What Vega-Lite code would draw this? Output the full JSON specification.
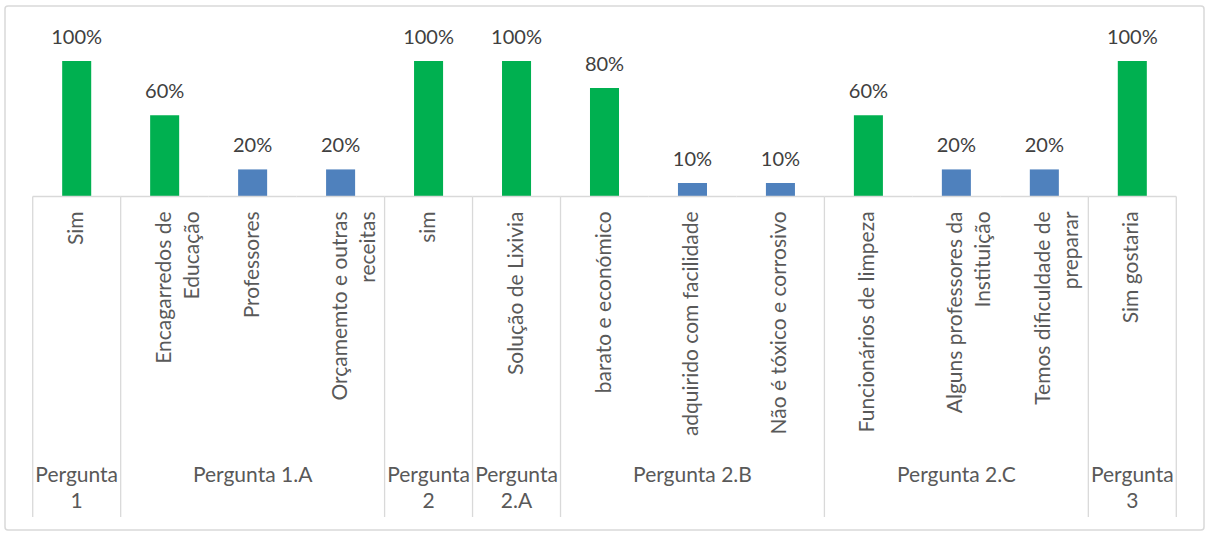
{
  "$schema": "https://vega.github.io/schema/vega-lite/v6.json",
  "width": 1199,
  "height": 524,
  "autosize": "none",
  "padding": {"left": 5, "top": 6, "right": 6, "bottom": 6},
  "background": "white",
  "datasets": {
    "barras": [
      {"cat": "Sim", "rotulo": "Sim", "valor": 1.0, "tipo": "maior"},
      {"cat": "Encagarredos", "rotulo": "Encagarredos de\nEducação", "valor": 0.6, "tipo": "maior"},
      {"cat": "Professores", "rotulo": "Professores", "valor": 0.2, "tipo": "outro"},
      {"cat": "Orcamemto", "rotulo": "Orçamemto e outras\nreceitas", "valor": 0.2, "tipo": "outro"},
      {"cat": "sim", "rotulo": "sim", "valor": 1.0, "tipo": "maior"},
      {"cat": "Solucao", "rotulo": "Solução de Lixivia", "valor": 1.0, "tipo": "maior"},
      {"cat": "barato", "rotulo": "barato e económico", "valor": 0.8, "tipo": "maior"},
      {"cat": "adquirido", "rotulo": "adquirido com facilidade", "valor": 0.1, "tipo": "outro"},
      {"cat": "Nao", "rotulo": "Não é tóxico e corrosivo", "valor": 0.1, "tipo": "outro"},
      {"cat": "Funcionarios", "rotulo": "Funcionários de limpeza", "valor": 0.6, "tipo": "maior"},
      {"cat": "Alguns", "rotulo": "Alguns professores da\nInstituição", "valor": 0.2, "tipo": "outro"},
      {"cat": "Temos", "rotulo": "Temos dificuldade de\npreparar", "valor": 0.2, "tipo": "outro"},
      {"cat": "Sim gostaria", "rotulo": "Sim gostaria", "valor": 1.0, "tipo": "maior"}
    ],
    "grupos": [
      {"cat": "Sim", "grupo": "Pergunta\n1"},
      {"cat": "Professores", "grupo": "Pergunta 1.A"},
      {"cat": "sim", "grupo": "Pergunta\n2"},
      {"cat": "Solucao", "grupo": "Pergunta\n2.A"},
      {"cat": "adquirido", "grupo": "Pergunta 2.B"},
      {"cat": "Alguns", "grupo": "Pergunta 2.C"},
      {"cat": "Sim gostaria", "grupo": "Pergunta\n3"}
    ],
    "inicios": [
      {"cat": "Sim"},
      {"cat": "Encagarredos"},
      {"cat": "sim"},
      {"cat": "Solucao"},
      {"cat": "barato"},
      {"cat": "Funcionarios"},
      {"cat": "Sim gostaria"}
    ],
    "fim": [{"cat": "Sim gostaria"}]
  },
  "encoding": {
    "x": {
      "field": "cat",
      "type": "nominal",
      "axis": null,
      "scale": {
        "type": "band",
        "domain": ["Sim", "Encagarredos", "Professores", "Orcamemto", "sim", "Solucao", "barato", "adquirido", "Nao", "Funcionarios", "Alguns", "Temos", "Sim gostaria"],
        "paddingInner": 0,
        "paddingOuter": 0.315
      }
    }
  },
  "layer": [
    {
      "data": {"name": "inicios"},
      "mark": {"type": "rule", "color": "#d9d9d9", "strokeWidth": 1.3},
      "encoding": {
        "x": {"field": "cat", "type": "nominal", "bandPosition": 0},
        "y": {"datum": 0, "type": "quantitative", "axis": null, "scale": {"domain": [-2.461, 1.406], "nice": false, "zero": false}},
        "y2": {"datum": -2.365}
      }
    },
    {
      "data": {"name": "fim"},
      "mark": {"type": "rule", "color": "#d9d9d9", "strokeWidth": 1.3},
      "encoding": {
        "x": {"field": "cat", "type": "nominal", "bandPosition": 1},
        "y": {"datum": 0, "type": "quantitative"},
        "y2": {"datum": -2.365}
      }
    },
    {
      "data": {"name": "barras"},
      "mark": {"type": "bar", "width": {"band": 0.33}},
      "encoding": {
        "y": {"field": "valor", "type": "quantitative"},
        "color": {
          "field": "tipo",
          "type": "nominal",
          "legend": null,
          "scale": {"domain": ["maior", "outro"], "range": ["#00B050", "#4F81BD"]}
        }
      }
    },
    {
      "data": {"name": "barras"},
      "mark": {"type": "rule", "color": "#d9d9d9", "strokeWidth": 1.3},
      "encoding": {
        "x": {"field": "cat", "type": "nominal", "bandPosition": 0},
        "x2": {"field": "cat", "bandPosition": 1},
        "y": {"datum": 0, "type": "quantitative"}
      }
    },
    {
      "data": {"name": "barras"},
      "mark": {"type": "text", "font": "Lato", "fontSize": 20, "color": "#404040", "baseline": "alphabetic", "dy": -17},
      "encoding": {
        "y": {"field": "valor", "type": "quantitative"},
        "text": {"field": "valor", "type": "quantitative", "format": ".0%"}
      }
    },
    {
      "data": {"name": "barras"},
      "mark": {"type": "text", "font": "Lato", "fontSize": 21, "color": "#595959", "angle": 270, "align": "right", "baseline": "middle", "lineBreak": "\n", "lineHeight": 28},
      "encoding": {
        "y": {"datum": -0.11, "type": "quantitative"},
        "text": {"field": "rotulo"}
      }
    },
    {
      "data": {"name": "grupos"},
      "mark": {"type": "text", "font": "Lato", "fontSize": 21, "color": "#595959", "align": "center", "baseline": "alphabetic", "lineBreak": "\n", "lineHeight": 26},
      "encoding": {
        "y": {"datum": -2.107, "type": "quantitative"},
        "text": {"field": "grupo"}
      }
    }
  ],
  "config": {
    "view": {"stroke": "#d9d9d9", "strokeWidth": 1.5, "cornerRadius": 3}
  }
}
